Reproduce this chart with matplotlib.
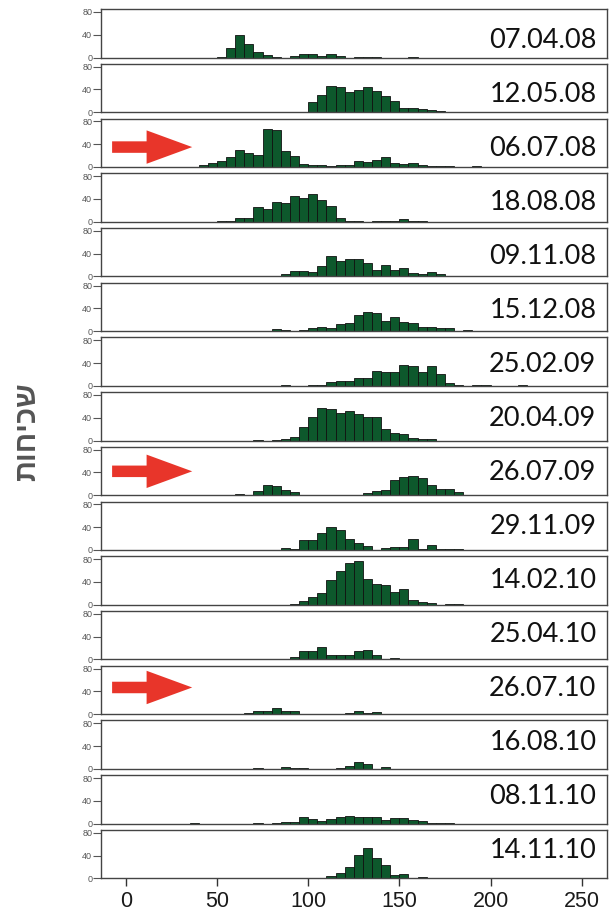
import numpy as np
import matplotlib
matplotlib.use("Agg")
import matplotlib.pyplot as plt
from matplotlib.patches import Polygon

# histogram counts per survey date, bins of 5 starting at the given value
dates = ["07.04.08", "12.05.08", "06.07.08", "18.08.08", "09.11.08", "15.12.08",
         "25.02.09", "20.04.09", "26.07.09", "29.11.09", "14.02.10", "25.04.10",
         "26.07.10", "16.08.10", "08.11.10", "14.11.10"]
starts = [50, 95, 40, 50, 80, 70, 85, 70, 55, 85, 90, 85, 55, 70, 35, 95]

c_070408 = [1, 17, 40, 23, 10, 5, 1, 0, 2, 6, 6, 3, 6, 3, 0, 1, 1, 1, 0, 0, 0, 1]
c_120508 = [1, 18, 30, 46, 44, 35, 39, 44, 37, 29, 20, 7, 7, 5, 4, 2, 1]
c_060708 = [4, 7, 11, 17, 29, 24, 21, 67, 64, 28, 20, 5, 4, 4, 2, 3, 4, 10, 9, 13,
            18, 7, 5, 7, 3, 2, 1, 2, 0, 0, 1]
c_180808 = [1, 1, 6, 6, 26, 23, 34, 33, 45, 41, 48, 38, 28, 7, 1, 1, 0, 1, 1, 2, 4, 1, 2]
c_091108 = [1, 4, 9, 9, 8, 19, 35, 27, 31, 30, 24, 11, 20, 11, 14, 6, 4, 8, 5, 1, 0, 0, 1]
c_151208 = [1, 0, 3, 2, 1, 2, 5, 8, 6, 13, 14, 29, 34, 31, 17, 25, 16, 15, 8, 8, 5, 5, 1, 2]
c_250209 = [1, 0, 0, 1, 2, 6, 8, 9, 14, 14, 26, 24, 24, 37, 35, 24, 34, 20, 5, 1, 0, 2, 1,
            0, 0, 0, 1]
c_200409 = [1, 0, 1, 2, 6, 24, 42, 57, 56, 49, 52, 47, 42, 41, 20, 13, 12, 4, 2, 3]
c_260709 = [1, 3, 1, 7, 18, 17, 10, 6, 1, 0, 0, 0, 0, 0, 1, 4, 8, 10, 26, 32, 33, 31, 18,
            11, 11, 5]
c_291109 = [3, 1, 18, 17, 29, 41, 35, 20, 13, 7, 0, 4, 6, 5, 19, 1, 8, 1, 1, 1]
c_140210 = [1, 6, 14, 20, 43, 60, 73, 76, 45, 37, 34, 23, 27, 9, 5, 3, 0, 1, 1]
c_250410 = [1, 4, 15, 14, 21, 8, 8, 7, 15, 16, 8, 1, 3, 1, 1, 0, 1, 1, 0, 1]
c_260710 = [1, 1, 2, 6, 5, 10, 5, 6, 1, 1, 1, 0, 0, 2, 5, 2, 4, 1, 1, 1, 0, 0, 0, 0, 1]
c_160810 = [1, 0, 0, 4, 1, 1, 0, 0, 0, 1, 5, 12, 8, 0, 3]
c_081110 = [1, 0, 0, 0, 0, 0, 0, 1, 0, 1, 2, 2, 12, 8, 5, 8, 12, 14, 12, 12, 12, 7, 10, 10,
            6, 4, 1, 1, 1]
c_141110 = [1, 1, 1, 4, 9, 19, 41, 53, 35, 23, 6, 7, 0, 2, 1, 1, 1, 0, 0, 1]

counts = [c_070408, c_120508, c_060708, c_180808, c_091108, c_151208, c_250209,
          c_200409, c_260709, c_291109, c_140210, c_250410, c_260710, c_160810,
          c_081110, c_141110]

arrow_rows = [2, 8, 12]
x_ticks = [0, 50, 100, 150, 200, 250]
y_ticks = [0, 40, 80]
y_label = "שכיחות"

W, H = 614, 913
fig = plt.figure(figsize=(W / 100, H / 100), dpi=100)

left_px, right_px = 101.2, 606.7
panel_h = 48.4
zero0, step = 57.5, 54.72
bar_color = "#0d582c"

for k, (s, c) in enumerate(zip(starts, counts)):
    zero_px = zero0 + step * k
    ax = fig.add_axes([left_px / W, 1 - zero_px / H, (right_px - left_px) / W, panel_h / H])
    edges = s + np.arange(len(c)) * 5
    ax.bar(edges, c, width=5, align="edge", color=bar_color,
           edgecolor="#111111", linewidth=0.6)
    ax.set_xlim(-13.5, 263.7)
    ax.set_ylim(0, 85)
    ax.set_yticks(y_ticks)
    ax.set_yticklabels([str(v) for v in y_ticks], fontsize=6.5, color="#555555",
                       family="Liberation Sans")
    ax.tick_params(axis="y", direction="out", length=6, width=0.8, color="#555555", pad=0.5)
    for sp in ax.spines.values():
        sp.set_color("#444444")
        sp.set_linewidth(1.0)
    if k < len(starts) - 1:
        ax.set_xticks([])
    else:
        ax.set_xticks(x_ticks)
        ax.set_xticklabels([str(v) for v in x_ticks], fontsize=15.5, color="#1a1a1a",
                           family="Liberation Sans")
        ax.tick_params(axis="x", direction="out", length=6, width=1.0, color="#333333", pad=3)

# date labels and arrows (overlaid on the figure)
for k, d in enumerate(dates):
    ly = 40.0 + 54.04 * k
    fig.text(596.5 / W, 1 - ly / H, d, ha="right", va="center", fontsize=19.5,
             family="Lato", color="#111111")

for k in arrow_rows:
    cy = 40.0 + 54.04 * k - 1.0
    x0, x1, x2 = 112.1, 146.6, 192.2
    sh, hh = 5.75, 16.7
    pts = [(x0, cy - sh), (x1, cy - sh), (x1, cy - hh), (x2, cy),
           (x1, cy + hh), (x1, cy + sh), (x0, cy + sh)]
    pts = [(x / W, 1 - y / H) for x, y in pts]
    fig.patches.append(Polygon(pts, closed=True, transform=fig.transFigure,
                               facecolor="#e8352a", edgecolor="none"))

# matplotlib lays text out left to right, so the Hebrew is reversed
fig.text(27.3 / W, 1 - 432 / H, y_label[::-1], rotation=90, ha="center", va="center",
         fontsize=21, fontweight="bold", family=["Liberation Sans", "DejaVu Sans"],
         color="#555555")

fig.savefig("out.png", dpi=100)
